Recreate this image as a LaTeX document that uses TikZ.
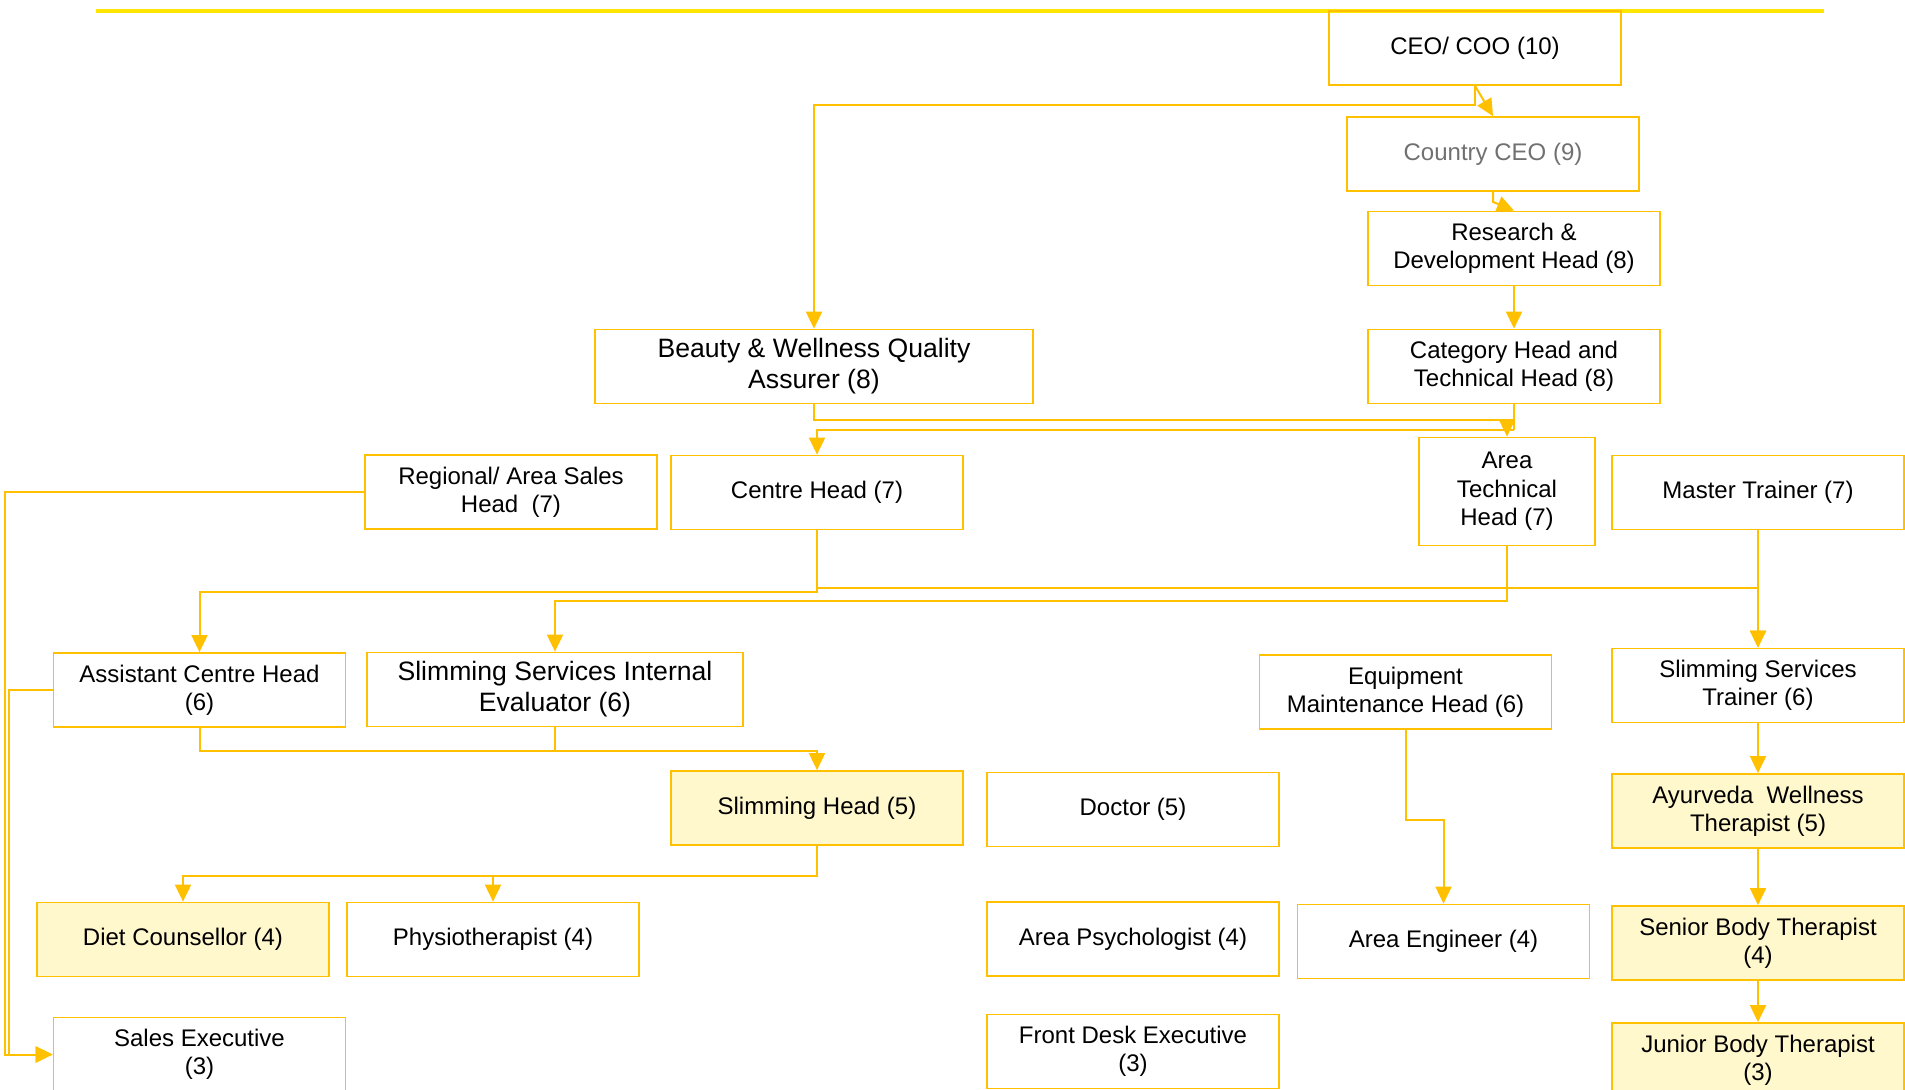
\documentclass[tikz,border=0pt]{standalone}
\usepackage{fontspec}
\setmainfont{Liberation Sans}
\usepackage{xcolor}
\usepackage{tikz}
\usetikzlibrary{arrows.meta}

\definecolor{boxline}{HTML}{FFC000}
\definecolor{boxfill}{HTML}{FFF8CC}
\definecolor{topbar}{HTML}{FFE600}
\definecolor{greytext}{HTML}{707070}

\tikzset{
    post/.style={draw=boxline, line width=0.9pt, rectangle, minimum width=146pt, minimum height=37pt, inner sep=1pt, align=center, font=\fontsize{12}{14.2}\selectfont},
    bigpost/.style={post, font=\fontsize{13.3}{15.5}\selectfont},
    litpost/.style={post, fill=boxfill},
    link/.style={draw=boxline, line width=1pt},
}

\begin{document}
\begin{tikzpicture}[x=0.5pt, y=-0.5pt, >={Triangle[length=8.5pt, width=8pt]}]
    \useasboundingbox (0,0) rectangle (1905,1089);
    \draw[topbar, line width=1.6pt] (96,11) -- (1824,11);

    \node[post] at (1475, 48) (root) {CEO/ COO (10)};
    \node[post, text=greytext] at (1493, 154) (L9N1) {Country CEO (9)};
    \node[post] at (1514, 248.5) (L8N1) {Research \&\\Development Head (8)};
    \node[post] at (1514, 366.5) (L8N2) {Category Head and\\Technical Head (8)};
    \node[bigpost, minimum width=219pt] at (814, 366.5) (L8N3) {Beauty \& Wellness Quality\\Assurer (8)};

    \node[post] at (511, 492) (L7N1) {Regional/ Area Sales\\Head\ \ (7)};
    \node[post] at (817, 492.5) (L7N2) {Centre Head (7)};
    \node[post, minimum width=88pt, minimum height=54pt] at (1507, 491.5) (L7N3) {Area\\Technical\\Head (7)};
    \node[post] at (1758, 492.5) (L7N4) {Master Trainer (7)};

    \node[post] at (199.5, 690) (L6N1) {Assistant Centre Head\\(6)};
    \node[bigpost, minimum width=188pt] at (555, 689.5) (L6N2) {Slimming Services Internal\\Evaluator (6)};
    \node[post] at (1405.5, 692) (L6N3) {Equipment\\Maintenance Head (6)};
    \node[post] at (1758, 685.5) (L6N4) {Slimming Services\\Trainer (6)};

    \node[litpost] at (817, 808) (L5N1) {Slimming Head (5)};
    \node[post] at (1133, 809.5) (L5N2) {Doctor (5)};
    \node[litpost] at (1758, 811) (L5N3) {Ayurveda\ \ Wellness\\Therapist (5)};

    \node[litpost] at (183, 939.5) (L4N1) {Diet Counsellor (4)};
    \node[post] at (493, 939.5) (L4N2) {Physiotherapist (4)};
    \node[post] at (1133, 939) (L4N3) {Area Psychologist (4)};
    \node[post] at (1443.5, 941.5) (L4N4) {Area Engineer (4)};
    \node[litpost] at (1758, 943) (L4N5) {Senior Body Therapist\\(4)};

    \node[post] at (199.5, 1054.5) (L3N1) {Sales Executive\\(3)};
    \node[post] at (1133, 1051.5) (L3N2) {Front Desk Executive\\(3)};
    \node[litpost] at (1758, 1060) (L3N3) {Junior Body Therapist\\(3)};

    \draw[link, ->] (root.south) -- (L9N1.north);
    \draw[link, ->] (root.south) -- ++(0,19) -| (L8N3.north);
    \draw[link, ->] (L9N1.south) -- ++(0,10) -- (L8N1.north);
    \draw[link, ->] (L8N1) -- (L8N2);
    \draw[link] (L8N2.south) -- ++(0,26) coordinate (j1);
    \draw[link, ->] (j1) -| (L7N3.north);
    \draw[link] (L8N3.south) -- ++(0,16) -| (j1);
    \draw[link, ->] (j1) -| (L7N2.north);

    \draw[link, ->] (L7N1.west) -- ++(-359,0) |- (L3N1.west);
    \draw[link, ->] (L7N2.south) -- ++(0,62) -| (L6N1.north);
    \draw[link, ->] (L7N2.south) -- ++(0,58) -| (L6N4.north);
    \draw[link, ->] (L7N3.south) -- ++(0,55) -| (L6N2.north);
    \draw[link, ->] (L7N4) -- (L6N4);

    \draw[link, ->] (L6N1.west) -- ++(-44,0) |- (L3N1.west);
    \draw[link, ->] (L6N1.south) -- ++(0,23) -| (L5N1.north);
    \draw[link] (L6N2.south) -- ++(0,23);
    \draw[link, ->] (L6N3.south) -- ++(0,90) -| (L4N4.north);
    \draw[link, ->] (L6N4) -- (L5N3);

    \draw[link, ->] (L5N1.south) -- ++(0,30) -| (L4N1.north);
    \draw[link, ->] (L5N1.south) -- ++(0,30) -| (L4N2.north);
    \draw[link, ->] (L5N3) -- (L4N5);
    \draw[link, ->] (L4N5) -- (L3N3);
\end{tikzpicture}
\end{document}
